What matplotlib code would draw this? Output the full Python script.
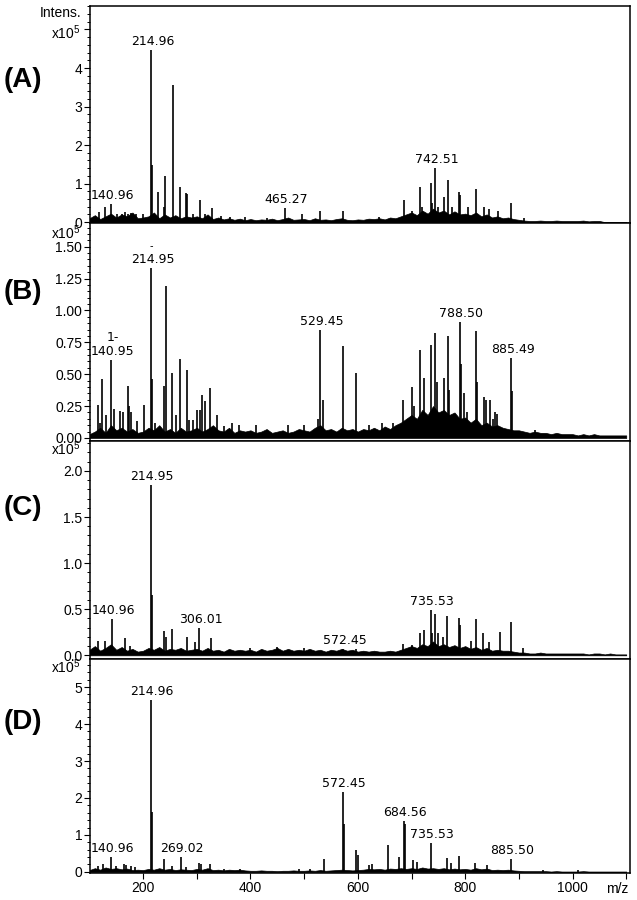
import numpy as np
import matplotlib.pyplot as plt
from matplotlib.ticker import MultipleLocator

plt.rcParams['font.family'] = ['Liberation Sans', 'DejaVu Sans']
plt.rcParams['mathtext.default'] = 'regular'

# Пики спектров: m/z и интенсивность (x10^5)
a_mz = [117.7, 128.2, 140.96, 150.5, 160, 166, 172, 178, 186, 200.5, 214.96, 217, 227.6,
        239.5, 241.2, 254.9, 269.2, 280.4, 282.2, 292, 305.2, 316, 328.2, 345, 362, 390,
        430, 464.8, 496, 530, 572, 640, 685.2, 700, 716.3, 720, 736.2, 739, 744.2, 750,
        759.7, 767.2, 775, 789, 791, 805, 820, 834.3, 845, 862, 885.3, 910]
a_h = [0.27, 0.38, 0.46, 0.2, 0.22, 0.25, 0.2, 0.24, 0.22, 0.2, 4.47, 1.48, 0.79,
       0.40, 1.19, 3.56, 0.92, 0.75, 0.72, 0.22, 0.57, 0.2, 0.36, 0.15, 0.13, 0.12,
       0.1, 0.36, 0.2, 0.29, 0.29, 0.12, 0.57, 0.28, 0.92, 0.4, 1.02, 0.5, 1.41, 0.4,
       0.66, 1.09, 0.4, 0.79, 0.7, 0.4, 0.85, 0.40, 0.35, 0.3, 0.50, 0.1]

b_mz = [115.1, 120, 123.3, 130, 140.6, 145, 156.1, 163, 171, 174, 178, 188, 202, 214.95,
        217, 222, 239.4, 242.5, 254.3, 262, 269.2, 281.6, 285, 292, 300, 305, 309.6, 315,
        325, 337, 350, 366, 378, 410, 470, 500, 525, 529.45, 536, 571.5, 597, 620, 645,
        665, 684, 700.8, 705, 716.3, 723.7, 736.8, 744.2, 747, 759.7, 767.2, 770, 789.6,
        792, 797, 803, 820, 822, 835.5, 839, 846.7, 852, 856, 860, 885.9, 888, 930]
b_h = [0.26, 0.12, 0.46, 0.18, 0.61, 0.23, 0.21, 0.20, 0.41, 0.25, 0.2, 0.13, 0.26, 1.33,
       0.46, 0.12, 0.41, 1.19, 0.51, 0.18, 0.62, 0.53, 0.14, 0.14, 0.22, 0.22, 0.34, 0.29,
       0.39, 0.18, 0.09, 0.12, 0.1, 0.1, 0.1, 0.1, 0.15, 0.85, 0.30, 0.72, 0.51, 0.1, 0.12,
       0.12, 0.30, 0.40, 0.25, 0.69, 0.47, 0.73, 0.82, 0.44, 0.47, 0.80, 0.38, 0.91,
       0.58, 0.35, 0.2, 0.84, 0.44, 0.32, 0.3, 0.30, 0.15, 0.2, 0.19, 0.63, 0.37, 0.06]

c_mz = [116.4, 128.1, 141.2, 166.7, 175, 214.2, 216.5, 239.4, 242, 254.3, 282.2, 296,
        304.6, 327, 400, 450, 500, 572.45, 596, 685, 700, 715, 723.7, 735.5, 738, 743.6,
        750, 758, 766.6, 788.3, 791, 810, 819.3, 834, 845, 864, 885.3, 908]
c_h = [0.16, 0.16, 0.39, 0.19, 0.10, 1.85, 0.65, 0.26, 0.2, 0.29, 0.2, 0.14,
       0.30, 0.19, 0.08, 0.09, 0.08, 0.07, 0.07, 0.12, 0.11, 0.24, 0.27, 0.49, 0.24, 0.45,
       0.24, 0.2, 0.43, 0.41, 0.33, 0.15, 0.39, 0.24, 0.14, 0.25, 0.36, 0.08]

d_mz = [115.8, 125, 140.6, 150, 164.8, 168, 178, 184, 214.2, 216.5, 239.4, 254, 269.7,
        280, 304.6, 308, 325, 350, 380, 490, 510, 537.4, 572.3, 574, 597, 600, 620, 627,
        656, 677, 685.2, 687, 703, 711, 736.2, 766.6, 773, 789, 818, 840, 885.3, 945, 1010]
d_h = [0.17, 0.2, 0.40, 0.15, 0.2, 0.18, 0.17, 0.12, 4.65, 1.63, 0.35, 0.17, 0.40,
       0.12, 0.23, 0.22, 0.21, 0.08, 0.08, 0.07, 0.08, 0.35, 2.15, 1.3, 0.58, 0.45, 0.18, 0.2,
       0.73, 0.4, 1.38, 1.3, 0.33, 0.27, 0.79, 0.37, 0.23, 0.43, 0.23, 0.18, 0.35, 0.05, 0.05]

# Уровень фона (шаг 10 m/z, от 100 до 1100)
base_mz = np.arange(100, 1101, 10)
a_base = [0.10, 0.18, 0.08, 0.15, 0.22, 0.12, 0.2, 0.15, 0.25, 0.1,
          0.12, 0.15, 0.25, 0.1, 0.2, 0.12, 0.18, 0.1, 0.15, 0.12,
          0.15, 0.1, 0.2, 0.08, 0.12, 0.07, 0.1, 0.06, 0.09, 0.05,
          0.08, 0.05, 0.07, 0.06, 0.09, 0.05, 0.08, 0.12, 0.06, 0.07,
          0.08, 0.05, 0.1, 0.06, 0.07, 0.05, 0.08, 0.1, 0.06, 0.05,
          0.07, 0.06, 0.09, 0.08, 0.1, 0.07, 0.12, 0.1, 0.15, 0.2,
          0.25, 0.18, 0.3, 0.22, 0.35, 0.25, 0.3, 0.2, 0.28, 0.2,
          0.22, 0.18, 0.25, 0.15, 0.2, 0.12, 0.15, 0.1, 0.12, 0.08,
          0.06, 0.04, 0.03, 0.03, 0.04, 0.03, 0.03, 0.04, 0.03, 0.03,
          0.03, 0.03, 0.04, 0.02, 0.03, 0.03, 0.0, 0.0, 0.0, 0.0, 0.0]
b_base = [0.03, 0.05, 0.08, 0.04, 0.1, 0.06, 0.08, 0.05, 0.07, 0.04,
          0.05, 0.08, 0.06, 0.1, 0.05, 0.07, 0.04, 0.08, 0.05, 0.06,
          0.08, 0.05, 0.07, 0.1, 0.06, 0.05, 0.08, 0.04, 0.06, 0.05,
          0.06, 0.04, 0.05, 0.07, 0.04, 0.05, 0.06, 0.04, 0.05, 0.07,
          0.06, 0.05, 0.08, 0.1, 0.06, 0.07, 0.05, 0.08, 0.06, 0.07,
          0.05, 0.07, 0.06, 0.08, 0.06, 0.09, 0.07, 0.1, 0.12, 0.15,
          0.18, 0.15, 0.22, 0.18, 0.25, 0.2, 0.22, 0.18, 0.2, 0.15,
          0.16, 0.12, 0.15, 0.1, 0.12, 0.09, 0.1, 0.08, 0.07, 0.06,
          0.06, 0.05, 0.04, 0.05, 0.04, 0.04, 0.03, 0.04, 0.03, 0.03,
          0.03, 0.02, 0.03, 0.02, 0.03, 0.02, 0.02, 0.02, 0.02, 0.02, 0.02]
c_base = [0.06, 0.1, 0.05, 0.08, 0.12, 0.06, 0.09, 0.05, 0.07, 0.04,
          0.05, 0.08, 0.06, 0.09, 0.05, 0.07, 0.06, 0.08, 0.05, 0.06,
          0.07, 0.05, 0.08, 0.05, 0.06, 0.04, 0.07, 0.05, 0.06, 0.05,
          0.06, 0.04, 0.07, 0.05, 0.06, 0.08, 0.05, 0.07, 0.05, 0.06,
          0.05, 0.07, 0.05, 0.06, 0.04, 0.06, 0.05, 0.07, 0.05, 0.06,
          0.04, 0.05, 0.04, 0.05, 0.04, 0.04, 0.05, 0.04, 0.06, 0.08,
          0.1, 0.08, 0.12, 0.1, 0.15, 0.1, 0.12, 0.09, 0.11, 0.08,
          0.1, 0.07, 0.09, 0.06, 0.08, 0.05, 0.06, 0.05, 0.05, 0.04,
          0.03, 0.03, 0.02, 0.02, 0.03, 0.02, 0.02, 0.02, 0.02, 0.02,
          0.02, 0.02, 0.02, 0.01, 0.02, 0.02, 0.01, 0.02, 0.01, 0.01, 0.01]
d_base = [0.05, 0.1, 0.06, 0.12, 0.08, 0.1, 0.07, 0.09, 0.05, 0.06,
          0.05, 0.08, 0.06, 0.1, 0.06, 0.08, 0.05, 0.07, 0.06, 0.05,
          0.08, 0.06, 0.1, 0.05, 0.06, 0.04, 0.06, 0.05, 0.06, 0.04,
          0.03, 0.03, 0.04, 0.03, 0.03, 0.02, 0.03, 0.03, 0.04, 0.03,
          0.03, 0.04, 0.03, 0.05, 0.03, 0.04, 0.05, 0.06, 0.05, 0.04,
          0.05, 0.06, 0.08, 0.07, 0.08, 0.06, 0.09, 0.08, 0.1, 0.08,
          0.1, 0.08, 0.12, 0.09, 0.1, 0.08, 0.1, 0.07, 0.09, 0.07,
          0.08, 0.06, 0.1, 0.07, 0.09, 0.05, 0.06, 0.05, 0.06, 0.04,
          0.03, 0.02, 0.02, 0.02, 0.02, 0.02, 0.01, 0.02, 0.01, 0.01,
          0.01, 0.01, 0.02, 0.01, 0.01, 0.01, 0.01, 0.01, 0.01, 0.01, 0.01]

# Подписи пиков
a_labels = ['140.96', '214.96', '465.27', '742.51']
a_label_mz = [140.96, 214.96, 464.8, 744.2]
b_labels = ['1-\n140.95', '214.95', '529.45', '788.50', '885.49']
b_label_mz = [140.6, 214.95, 529.45, 789.6, 885.9]
c_labels = ['140.96', '214.95', '306.01', '572.45', '735.53']
c_label_mz = [141.2, 214.2, 304.6, 572.45, 735.5]
d_labels = ['140.96', '214.96', '269.02', '572.45', '684.56', '735.53', '885.50']
d_label_mz = [140.6, 214.2, 269.7, 572.3, 685.2, 736.2, 885.3]

panels = [
    ('(A)', a_mz, a_h, a_base, a_labels, a_label_mz, 5.61, 0.01,
     [0, 1, 2, 3, 4, 5], ['0', '1', '2', '3', '4', ''], 0.2),
    ('(B)', b_mz, b_h, b_base, b_labels, b_label_mz, 1.69, 0.02,
     [0, 0.25, 0.5, 0.75, 1.0, 1.25, 1.5], ['0.00', '0.25', '0.50', '0.75', '1.00', '1.25', '1.50'], 0.05),
    ('(C)', c_mz, c_h, c_base, c_labels, c_label_mz, 2.33, 0.04,
     [0, 0.5, 1.0, 1.5, 2.0], ['0.0', '0.5', '1.0', '1.5', '2.0'], 0.1),
    ('(D)', d_mz, d_h, d_base, d_labels, d_label_mz, 5.76, 0.03,
     [0, 1, 2, 3, 4, 5], ['0', '1', '2', '3', '4', '5'], 0.2),
]

W, H = 637, 900
fig = plt.figure(figsize=(W / 100, H / 100), dpi=100)

# Границы панелей в пикселях (верх, низ)
edges = [(6, 222.5), (222.5, 440.5), (440.5, 659), (659, 873)]
tag_y = [80, 292, 508, 722]
exp_y = [33, 233, 449, 667]

for i, (tag, mz, h, base, labels, label_mz, ytop, ybot, yt, ytl, minor) in enumerate(panels):
    top, bottom = edges[i]
    ax = fig.add_axes([90 / W, 1 - bottom / H, 540 / W, (bottom - top) / H])
    ax.fill_between(base_mz, 0, base, color='black', lw=0.5)
    ax.vlines(mz, 0, h, color='black', lw=1.2)
    for text, m in zip(labels, label_mz):
        near = [hh for mm, hh in zip(mz, h) if abs(mm - m) < 2.5]
        ax.annotate(text, xy=(m, max(near)), xytext=(1, 1.5), textcoords='offset points',
                    ha='center', va='bottom', fontsize=9, family='DejaVu Sans',
                    linespacing=1.1)
    ax.set_xlim(101, 1107)
    ax.set_ylim(-ybot, ytop)
    ax.set_yticks(yt, ytl)
    ax.yaxis.set_minor_locator(MultipleLocator(minor))
    ax.tick_params(axis='y', which='major', direction='out', length=4, width=0.8,
                   labelsize=10, pad=1.5)
    ax.tick_params(axis='y', which='minor', direction='out', length=2, width=0.7)
    for sp in ax.spines.values():
        sp.set_linewidth(1.1)
    if i < 3:
        ax.tick_params(axis='x', which='both', bottom=False, labelbottom=False)
    else:
        ax.set_xticks([200, 400, 600, 800, 1000])
        ax.xaxis.set_minor_locator(MultipleLocator(100))
        ax.tick_params(axis='x', which='major', direction='out', length=4, width=0.8,
                       labelsize=10, pad=2)
        ax.tick_params(axis='x', which='minor', direction='out', length=4, width=0.8)
    fig.text(23 / W, 1 - tag_y[i] / H, tag, fontsize=20, fontweight='bold',
             ha='center', va='center')
    fig.text(81 / W, 1 - exp_y[i] / H, r'x10$^{5}$', fontsize=10, ha='right', va='center')

fig.text(81 / W, 1 - 13 / H, 'Intens.', fontsize=10, ha='right', va='center')
fig.text(617 / W, 1 - 889 / H, 'm/z', fontsize=10, ha='center', va='center')
# маленький штрих над подписью 214.95 на панели (B)
fig.text(151 / W, 1 - 246 / H, '-', fontsize=7, ha='center', va='center',
         family='DejaVu Sans')

fig.savefig('out.png', dpi=100)
